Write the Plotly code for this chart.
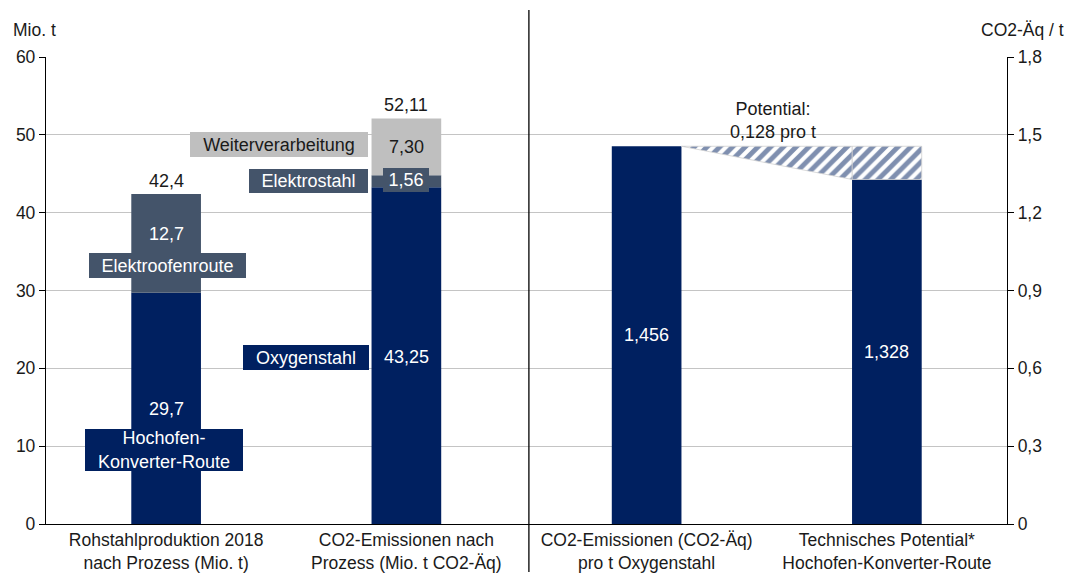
import plotly.graph_objects as go
import numpy as np

# ---------------- data ----------------
categories = [
    "Rohstahlproduktion 2018<br>nach Prozess (Mio. t)",
    "CO2-Emissionen nach<br>Prozess (Mio. t CO2-Äq)",
    "CO2-Emissionen (CO2-Äq)<br>pro t Oxygenstahl",
    "Technisches Potential*<br>Hochofen-Konverter-Route",
]
navy_values = [29.7, 43.25]      # Hochofen-Konverter-Route / Oxygenstahl
slate_values = [12.7, 1.56]      # Elektroofenroute / Elektrostahl
gray_values = [0.0, 7.30]        # Weiterverarbeitung
left_decimals = [1, 2]
per_t_values = [1.456, 1.328]    # CO2-Äq per t
potential = round(per_t_values[0] - per_t_values[1], 3)
left_ticks = [0, 10, 20, 30, 40, 50, 60]
right_ticks = [0, 0.3, 0.6, 0.9, 1.2, 1.5, 1.8]

NAVY = "#002060"
SLATE = "#44546A"
GRAY = "#BFBFBF"
TXT = "#1a1a1a"
FONT = "Liberation Sans, Arial, sans-serif"
FS = 17.5
FSB = 18
BW = 0.29

def de(v, d):
    return f"{v:.{d}f}".replace(".", ",")

x_left = np.arange(len(navy_values))
x_right = np.arange(len(navy_values), len(navy_values) + len(per_t_values))
navy = np.array(navy_values)
slate = np.array(slate_values)
gray = np.array(gray_values)
totals = navy + slate + gray

PAT = dict(shape="/", fgcolor=NAVY, bgcolor="white", size=9, solidity=0.55)

fig = go.Figure()
fig.add_bar(x=x_left, y=navy, base=0, width=BW, marker=dict(color=NAVY, line_width=0), yaxis="y")
fig.add_bar(x=x_left, y=slate, base=navy, width=BW, marker=dict(color=SLATE, line_width=0), yaxis="y")
fig.add_bar(x=x_left, y=gray, base=navy + slate, width=BW, marker=dict(color=GRAY, line_width=0), yaxis="y")

fig.add_bar(x=x_right, y=per_t_values, base=0, width=BW, marker=dict(color=NAVY, line_width=0), yaxis="y2")
# hatched potential on last bar
fig.add_bar(x=[x_right[1]], y=[potential], base=[per_t_values[1]], width=BW,
            marker=dict(color="white", line=dict(color="#d0d0d0", width=0.8), pattern=PAT),
            yaxis="y2")
# hatched connector trapezoid
xa = x_right[0] + BW / 2
xb = x_right[1] - BW / 2
fig.add_scatter(x=[xa, xb, xb, xa], y=[per_t_values[0], per_t_values[0], per_t_values[1], per_t_values[0]],
                mode="lines", fill="toself", line=dict(color="#d0d0d0", width=0.8),
                fillcolor="white", fillpattern=PAT,
                yaxis="y2", hoverinfo="skip")

ann = []
def lab(x, y, text, color="white", yref="y", size=FSB, **kw):
    d = dict(x=x, y=y, xref="x", yref=yref, text=text, showarrow=False,
             font=dict(family=FONT, size=size, color=color))
    d.update(kw)
    ann.append(d)

def box(x, y, text, bg, w, h, color="white"):
    lab(x, y, text, color=color, bgcolor=bg, width=w, height=h, borderpad=0, borderwidth=0)

# values inside left bars
lab(0, 14.8, de(navy[0], left_decimals[0]))
lab(0, 37.3, de(slate[0], left_decimals[0]))
lab(1, 21.5, de(navy[1], left_decimals[1]))
box(1, 44.2, de(slate[1], left_decimals[1]), SLATE, 46, 24)
lab(1, navy[1] + slate[1] + gray[1] / 2, de(gray[1], left_decimals[1]), color=TXT)
for i, t in enumerate(totals):
    lab(x_left[i], t, de(t, left_decimals[i]), color=TXT, yanchor="bottom", yshift=1)

# series name boxes
box(0.470, 48.76, "Weiterverarbeitung", GRAY, 178, 25, color=TXT)
box(0.593, 44.07, "Elektrostahl", SLATE, 119, 24)
box(0.006, 33.2, "Elektroofenroute", SLATE, 157, 25)
box(0.583, 21.4, "Oxygenstahl", NAVY, 126, 25)
box(-0.008, 9.5, "Hochofen-<br>Konverter-Route", NAVY, 158, 42)

# right bars
for i, v in enumerate(per_t_values):
    lab(x_right[i], v / 2, de(v, 3), yref="y2")
lab(2.526, 1.557, "Potential:<br>" + de(potential, 3) + " pro t", color=TXT, yref="y2")

fig.update_layout(annotations=ann)

# axis titles in pixel terms relative to plot area
pw = 1075 - 46 - 68
ph = 576 - 57 - 52
fig.add_annotation(x=(11 - 46) / pw, y=(524 - 30) / ph, xref="paper", yref="paper", text="Mio. t",
                   showarrow=False, xanchor="left", yanchor="middle",
                   font=dict(family=FONT, size=FS, color=TXT))
fig.add_annotation(x=(1066 - 46) / pw, y=(524 - 30) / ph, xref="paper", yref="paper", text="CO2-Äq / t",
                   showarrow=False, xanchor="right", yanchor="middle",
                   font=dict(family=FONT, size=FS, color=TXT))

# divider
fig.add_shape(type="line", xref="x", yref="paper", x0=1.51, x1=1.51,
              y0=(524 - 572) / ph, y1=(524 - 10) / ph, line=dict(color="black", width=1.3))

axis_common = dict(zeroline=False, showline=True, linecolor="black", linewidth=1.3, automargin=False)
fig.update_layout(
    width=1075, height=576,
    margin=dict(l=46, r=68, t=57, b=52, autoexpand=False),
    paper_bgcolor="white", plot_bgcolor="white",
    showlegend=False, barmode="overlay",
    separators=",.",
    font=dict(family=FONT, size=FS, color=TXT),
    xaxis=dict(range=[-0.5, 3.5], tickvals=list(range(len(categories))), ticktext=categories,
               showgrid=False, ticks="", tickfont=dict(size=FS, color=TXT), **axis_common),
    yaxis=dict(range=[0, 60], tickvals=left_ticks, showgrid=True, gridcolor="#c4c4c4", gridwidth=1.3,
               ticks="outside", ticklen=6, tickcolor="black", tickfont=dict(size=FS, color=TXT), **axis_common),
    yaxis2=dict(range=[0, 1.8], tickvals=right_ticks, overlaying="y", side="right", showgrid=False,
                ticks="outside", ticklen=6, tickcolor="black", tickfont=dict(size=FS, color=TXT), **axis_common),
)

fig.write_html("out.html", config={"displayModeBar": False},
               post_script="document.body.style.margin='0';document.body.style.overflow='hidden';")
